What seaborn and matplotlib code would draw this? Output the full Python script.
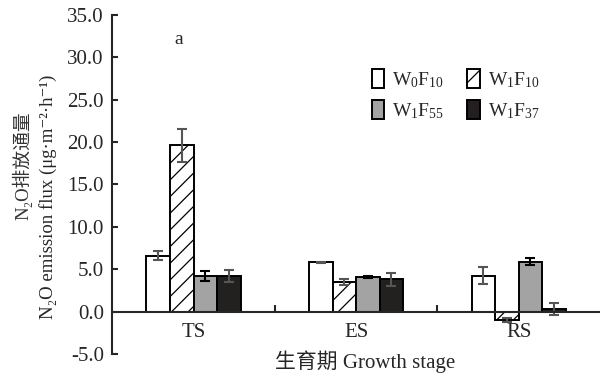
import matplotlib
matplotlib.use('Agg')

import pandas as pd
import seaborn as sns
import matplotlib.pyplot as plt
from matplotlib.patches import Patch

stages = ['TS', 'ES', 'RS']
treatments = ['W0F10', 'W1F10', 'W1F55', 'W1F37']
legend_labels = [r'W$_0$F$_{10}$', r'W$_1$F$_{10}$', r'W$_1$F$_{55}$', r'W$_1$F$_{37}$']

w0f10 = [6.6, 5.8, 4.2]
w1f10 = [19.6, 3.5, -1.0]
w1f55 = [4.2, 4.1, 5.9]
w1f37 = [4.2, 3.8, 0.3]

w0f10_err = [0.5, 0.05, 1.0]
w1f10_err = [1.9, 0.4, 0.2]
w1f55_err = [0.55, 0.1, 0.45]
w1f37_err = [0.7, 0.8, 0.75]

bar_colors = ['white', 'white', '#a3a3a3', '#231f20']
err_colors = [['#555555', '#555555', '#555555'],
              ['#555555', '#555555', '#555555'],
              ['black', 'black', 'black'],
              ['#555555', '#555555', '#555555']]

df = pd.DataFrame({
    'stage': stages * 4,
    'treatment': [t for t in treatments for _ in stages],
    'flux': w0f10 + w1f10 + w1f55 + w1f37,
    'err': w0f10_err + w1f10_err + w1f55_err + w1f37_err,
})

sns.set_style('ticks')
plt.rcParams['font.family'] = ['Liberation Serif', 'Noto Sans CJK SC', 'DejaVu Serif']
plt.rcParams['mathtext.fontset'] = 'custom'
plt.rcParams['mathtext.rm'] = 'Liberation Serif'
plt.rcParams['mathtext.default'] = 'regular'
plt.rcParams['hatch.linewidth'] = 0.9

fig = plt.figure(figsize=(6, 3.81), dpi=100)
ax = fig.add_axes([0.187, 0.071, 0.813, 0.89])

sns.barplot(data=df, x='stage', y='flux', hue='treatment', order=stages,
            hue_order=treatments, palette=dict(zip(treatments, bar_colors)),
            width=0.58, edgecolor='black', linewidth=1.4, legend=False,
            errorbar=None, ax=ax)

# bars come out hue by hue
for i, t in enumerate(treatments):
    sub = df[df['treatment'] == t]
    for j, p in enumerate(ax.patches[i * 3:(i + 1) * 3]):
        if t == 'W1F10':
            p.set_hatch('//')
        xc = p.get_x() + p.get_width() / 2
        ax.errorbar(xc, sub['flux'].iloc[j], yerr=sub['err'].iloc[j], fmt='none',
                    ecolor=err_colors[i][j], elinewidth=1.5, capsize=3.5, capthick=1.5)

ax.set_xlim(-0.5, 2.5)
ax.set_ylim(-5, 35)
ax.set_yticks(range(-5, 36, 5))
ax.set_yticklabels([f'{v:.1f}' for v in range(-5, 36, 5)])
ax.set_xticks([0, 1, 2])
ax.set_xticklabels(stages)
ax.set_xticks([0.5, 1.5], minor=True)
ax.tick_params(axis='x', which='major', length=0, pad=8, labelsize=15)
ax.tick_params(axis='x', which='minor', direction='in', length=5, width=1.5)
ax.tick_params(axis='y', direction='in', length=4, width=1.5, pad=6, labelsize=15)

ax.spines['top'].set_visible(False)
ax.spines['right'].set_visible(False)
ax.spines['bottom'].set_position(('data', 0))
ax.spines['left'].set_linewidth(1.5)
ax.spines['bottom'].set_linewidth(1.5)
ax.set_xlabel('')
ax.set_ylabel('')

fig.text(0.608, 0.05, '生育期 Growth stage', ha='center', va='center', fontsize=15)
fig.text(0.038, 0.565, 'N₂O排放通量', rotation=90, ha='center', va='center',
         fontsize=13.5, color='#333333')
fig.text(0.080, 0.483, 'N₂O emission flux (μg·m⁻²·h⁻¹)', rotation=90, ha='center',
         va='center', fontsize=13.5)
ax.text(-0.09, 32.1, 'a', ha='center', va='center', fontsize=14)

hatches = ['', '//', '', '']
handles = [Patch(facecolor=c, edgecolor='black', linewidth=1.4, hatch=h)
           for c, h in zip(bar_colors, hatches)]
# legend fills by column, so reorder to read row by row
order = [0, 2, 1, 3]
ax.legend([handles[k] for k in order], [legend_labels[k] for k in order], ncol=2,
          frameon=False, fontsize=14, loc='upper left', bbox_to_anchor=(0.59, 0.865),
          bbox_transform=fig.transFigure, handlelength=0.65, handleheight=1.1,
          handletextpad=0.4, columnspacing=1.2, labelspacing=0.55)

plt.savefig('out.png', dpi=100)
